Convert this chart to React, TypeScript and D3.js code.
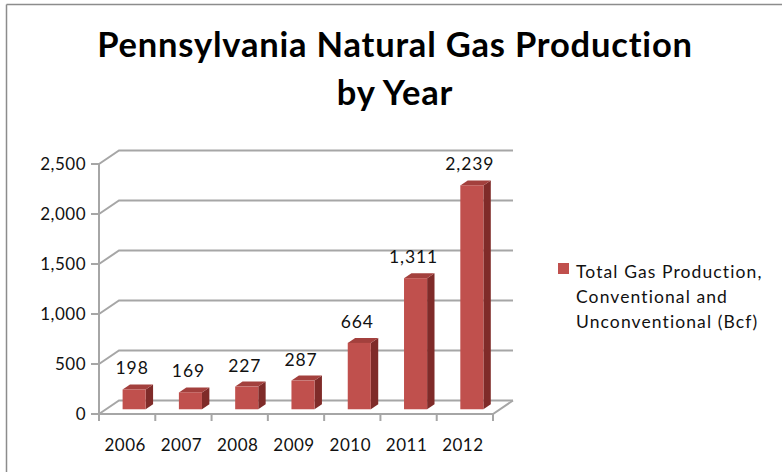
import React from "react";
import * as d3 from "d3";

const years = ["2006", "2007", "2008", "2009", "2010", "2011", "2012"];
const production = [198, 169, 227, 287, 664, 1311, 2239];
const yTicks = [0, 500, 1000, 1500, 2000, 2500];
const titleLines = ["Pennsylvania Natural Gas Production", "by Year"];
const legendLines = ["Total Gas Production,", "Conventional and", "Unconventional (Bcf)"];

const W = 782;
const H = 472;
const DX = 20;
const DY = -13.5;
const FONT = "Lato, 'Open Sans', sans-serif";

export default function App() {
  const x = d3.scaleBand<string>().domain(years).range([99, 493]).paddingInner(0).paddingOuter(0);
  const y = d3.scaleLinear().domain([0, 2500]).range([414, 164]);
  const bw = x.bandwidth();
  const barW = bw * 0.41;
  const f0 = 0.35;
  const f1 = 0.72;
  const fmt = d3.format(",");

  const gridColor = "#a6a6a6";
  const textColor = "#111";

  return (
    <svg width={W} height={H} style={{ position: "absolute", left: 0, top: 0, background: "#fff" }}>
      <rect x={0} y={0} width={W} height={H} fill="#fff" />
      {/* chart border */}
      <line x1={6.5} y1={4.5} x2={W} y2={4.5} stroke="#8c8c8c" strokeWidth={1.5} />
      <line x1={6.5} y1={4.5} x2={6.5} y2={H} stroke="#8c8c8c" strokeWidth={1.5} />

      {/* title */}
      {titleLines.map((t, i) => (
        <text
          key={t}
          x={395}
          y={57 + i * 48}
          textAnchor="middle"
          fontFamily={FONT}
          fontWeight={700}
          fontSize={34.5}
          letterSpacing={0.8}
          fill="#000"
        >
          {t}
        </text>
      ))}

      {/* gridlines (back wall + left wall) */}
      {yTicks.map((v) => {
        const yy = y(v);
        return (
          <g key={v}>
            <polyline
              points={`${99},${yy} ${99 + DX},${yy + DY} ${493 + DX},${yy + DY}`}
              fill="none"
              stroke={gridColor}
              strokeWidth={2}
            />
            <line x1={91} x2={99} y1={yy} y2={yy} stroke={gridColor} strokeWidth={2} />
            <text x={86} y={yy + 6} textAnchor="end" fontFamily={FONT} fontSize={17} letterSpacing={0.5} fill={textColor}>
              {fmt(v)}
            </text>
          </g>
        );
      })}
      {/* vertical axis */}
      <line x1={99} x2={99} y1={y(2500)} y2={y(0) + 1} stroke={gridColor} strokeWidth={2} />
      {/* floor */}
      <polyline
        points={`${99},${y(0)} ${493},${y(0)} ${493 + DX},${y(0) + DY}`}
        fill="none"
        stroke={gridColor}
        strokeWidth={2}
      />
      {/* category ticks */}
      {years.concat(["end"]).map((yr, i) => {
        const xx = 99 + i * bw;
        return <line key={yr} x1={xx} x2={xx} y1={y(0)} y2={y(0) + 7} stroke={gridColor} strokeWidth={2} />;
      })}

      {/* bars */}
      {years.map((yr, i) => {
        const v = production[i];
        const x0 = (x(yr) as number) + (bw - barW) / 2 + DX * f0;
        const x1 = x0 + barW;
        const yb = y(0) + DY * f0;
        const yt = y(v) + DY * f0;
        const ddx = DX * (f1 - f0);
        const ddy = DY * (f1 - f0);
        return (
          <g key={yr}>
            <polygon
              points={`${x1},${yt} ${x1 + ddx},${yt + ddy} ${x1 + ddx},${yb + ddy} ${x1},${yb}`}
              fill="#7f2b29"
            />
            <polygon
              points={`${x0},${yt} ${x0 + ddx},${yt + ddy} ${x1 + ddx},${yt + ddy} ${x1},${yt}`}
              fill="#a3403d"
            />
            <rect x={x0} y={yt} width={barW} height={yb - yt} fill="#c0504d" />
            <text
              x={x0 + barW / 2 - 2}
              y={yt + ddy - 10}
              textAnchor="middle"
              fontFamily={FONT}
              fontSize={17.5}
              letterSpacing={0.9}
              fill={textColor}
            >
              {fmt(v)}
            </text>
          </g>
        );
      })}

      {/* category labels */}
      {years.map((yr) => (
        <text
          key={yr}
          x={(x(yr) as number) + bw / 2 - 2}
          y={451}
          textAnchor="middle"
          fontFamily={FONT}
          fontSize={17}
          letterSpacing={0.5}
          fill={textColor}
        >
          {yr}
        </text>
      ))}

      {/* legend */}
      <rect x={558} y={263} width={11} height={11} fill="#c0504d" />
      {legendLines.map((t, i) => (
        <text key={t} x={576} y={278 + i * 25} fontFamily={FONT} fontSize={17.5} letterSpacing={1.1} fill={textColor}>
          {t}
        </text>
      ))}
    </svg>
  );
}
